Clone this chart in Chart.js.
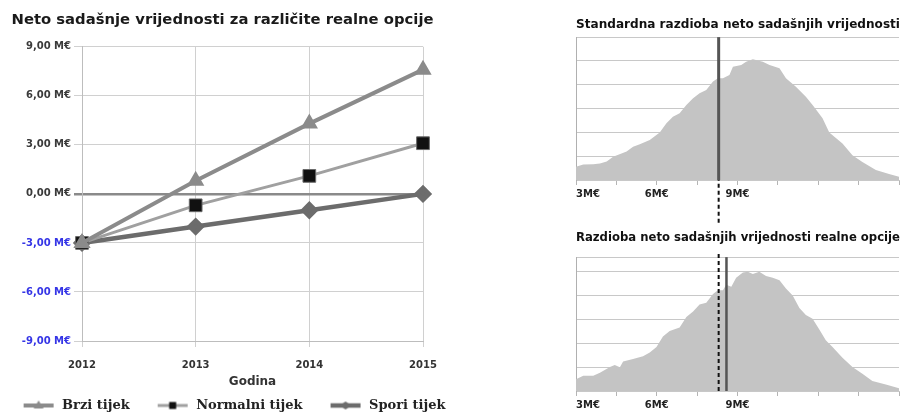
<!DOCTYPE html>
<html>
<head>
<meta charset="utf-8">
<script src="https://cdn.jsdelivr.net/npm/chart.js@4.4.1/dist/chart.umd.min.js"></script>
<style>
  html, body { margin: 0; padding: 0; background: #fff; overflow: hidden; width: 902px; height: 414px; }
  canvas { position: absolute; }
  #npvChart { left: -20px; top: 0; }
  #stdChart { left: 560px; top: 0; }
  #optChart { left: 560px; top: 226px; }
</style>
</head>
<body>
<canvas id="npvChart" width="485" height="430"></canvas>
<canvas id="stdChart" width="342" height="232"></canvas>
<canvas id="optChart" width="342" height="188"></canvas>
<script>
/**********************************
  1) DATA
**********************************/
// Left chart: NPV per year for each option (M€)
const years         = ['2012', '2013', '2014', '2015'];
const brziTijek     = [-3.0, 0.8, 4.3, 7.6];
const normalniTijek = [-3.0, -0.7, 1.1, 3.1];
const sporiTijek    = [-3.0, -2.0, -1.0, 0.0];

// Right charts: NPV distributions (x in M€, y in grid units)
const stdNpvX = [3.0, 3.27, 3.64, 3.89, 4.14, 4.38, 4.88, 5.12, 5.37, 5.74, 6.11, 6.36, 6.6, 6.85,
                 7.1, 7.35, 7.59, 7.84, 8.09, 8.27, 8.46, 8.7, 8.83, 9.14, 9.32, 9.57, 9.94, 10.19,
                 10.56, 10.8, 11.17, 11.54, 11.79, 12.16, 12.41, 12.9, 13.27, 13.64, 14.14, 14.63, 15.0];
const stdNpvY = [0.56, 0.65, 0.66, 0.69, 0.78, 0.98, 1.2, 1.4, 1.5, 1.68, 2.0, 2.38, 2.66, 2.8,
                 3.15, 3.43, 3.64, 3.78, 4.14, 4.27, 4.27, 4.41, 4.76, 4.83, 4.97, 5.07, 4.97, 4.83,
                 4.69, 4.27, 3.92, 3.5, 3.15, 2.59, 2.0, 1.53, 1.04, 0.76, 0.42, 0.25, 0.14];

const optNpvX = [3.0, 3.27, 3.64, 3.89, 4.26, 4.44, 4.63, 4.75, 5.12, 5.49, 5.74, 5.99, 6.23, 6.48,
                 6.85, 7.1, 7.35, 7.59, 7.84, 8.09, 8.27, 8.46, 8.58, 8.77, 8.95, 9.2, 9.38, 9.57,
                 9.81, 10.06, 10.31, 10.56, 10.8, 11.05, 11.3, 11.54, 11.79, 12.04, 12.28, 12.53,
                 12.9, 13.27, 13.64, 14.01, 14.51, 15.0];
const optNpvY = [0.49, 0.64, 0.64, 0.76, 1.01, 1.09, 1.0, 1.24, 1.34, 1.46, 1.61, 1.84, 2.28, 2.51,
                 2.66, 3.1, 3.33, 3.63, 3.7, 4.07, 4.22, 4.22, 4.45, 4.37, 4.75, 4.97, 5.0, 4.9,
                 5.0, 4.82, 4.75, 4.64, 4.3, 4.0, 3.48, 3.18, 3.03, 2.58, 2.13, 1.84,
                 1.39, 1.01, 0.72, 0.42, 0.27, 0.12];

const distTickLabels = [3, 6, 9];   // M€ values that carry a label
const stdMean = 8.3;                // standard NPV marker
const optMean = 8.59;               // real option NPV marker

/**********************************
  2) LEFT CHART
**********************************/
const fmtM = v => v.toFixed(2).replace('.', ',') + ' M€';

// legend icon: line with the marker in the middle
function legendIcon(lineColor, lineWidth, drawMark) {
  const c = document.createElement('canvas');
  c.width = 56; c.height = 14;
  const g = c.getContext('2d');
  g.strokeStyle = lineColor; g.lineWidth = lineWidth;
  g.beginPath(); g.moveTo(24, 7); g.lineTo(54, 7); g.stroke();
  drawMark(g, 39, 7);
  return c;
}
const legendIcons = [
  legendIcon('#8b8b8b', 4, (g, x, y) => {
    g.fillStyle = '#8b8b8b';
    g.beginPath(); g.moveTo(x, y - 5); g.lineTo(x + 5, y + 3); g.lineTo(x - 5, y + 3); g.closePath(); g.fill();
  }),
  legendIcon('#a0a0a0', 3, (g, x, y) => {
    g.fillStyle = '#111'; g.fillRect(x - 3.5, y - 3.5, 7, 7);
  }),
  legendIcon('#6c6c6c', 4.5, (g, x, y) => {
    g.fillStyle = '#6c6c6c';
    g.beginPath(); g.moveTo(x - 6, y); g.lineTo(x, y - 4); g.lineTo(x + 6, y); g.lineTo(x, y + 4); g.closePath(); g.fill();
  })
];

new Chart(document.getElementById('npvChart'), {
  type: 'line',
  data: {
    labels: years,
    datasets: [
      { label: 'Brzi tijek', data: brziTijek, borderColor: '#8b8b8b', borderWidth: 4,
        pointStyle: 'triangle', pointRadius: 6, pointBackgroundColor: '#8b8b8b', pointBorderColor: '#8b8b8b' },
      { label: 'Normalni tijek', data: normalniTijek, borderColor: '#a0a0a0', borderWidth: 3,
        pointStyle: 'rect', pointRadius: 9, pointBackgroundColor: '#111', pointBorderColor: '#6a6a6a', pointBorderWidth: 1 },
      { label: 'Spori tijek', data: sporiTijek, borderColor: '#6c6c6c', borderWidth: 4.5,
        pointStyle: 'rectRot', pointRadius: 6, pointBackgroundColor: '#6c6c6c', pointBorderColor: '#6c6c6c' }
    ]
  },
  options: {
    responsive: false,
    animation: false,
    layout: { padding: { bottom: 8 } },
    plugins: {
      title: {
        display: true,
        text: 'Neto sadašnje vrijednosti za različite realne opcije',
        color: '#1a1a1a',
        font: { family: 'DejaVu Sans', size: 14.8, weight: 'bold' },
        padding: { top: 11, bottom: 18 }
      },
      legend: {
        position: 'bottom',
        labels: {
          usePointStyle: true,
          pointStyleWidth: 56,
          padding: 4,
          font: { family: 'DejaVu Serif', size: 13, weight: 'bold' },
          generateLabels: chart => chart.data.datasets.map((ds, i) => ({
            text: ds.label, pointStyle: legendIcons[i], datasetIndex: i,
            hidden: false, lineWidth: 0, fontColor: '#222'
          }))
        }
      },
      tooltip: { enabled: false }
    },
    scales: {
      x: {
        grid: { color: '#d0d0d0', tickLength: 6 },
        border: { color: '#bdbdbd' },
        ticks: { color: '#333', font: { family: 'DejaVu Sans', size: 10, weight: 'bold' }, padding: 12, maxRotation: 0 },
        title: {
          display: true, text: 'Godina', color: '#333',
          font: { family: 'DejaVu Sans', size: 12, weight: 'bold' },
          padding: { top: 0, bottom: 6 }
        },
        afterFit: s => { s.height = 54; }
      },
      y: {
        min: -9, max: 9,
        ticks: {
          stepSize: 3, callback: fmtM, padding: 3,
          color: c => (c.tick && c.tick.value < 0) ? '#3535e6' : '#3a3a3a',
          font: { family: 'DejaVu Sans', size: 10, weight: 'bold' }
        },
        grid: {
          tickLength: 8,
          color: c => (c.tick && c.tick.value === 0) ? '#8a8a8a' : '#d0d0d0',
          lineWidth: c => (c.tick && c.tick.value === 0) ? 2.5 : 1
        },
        border: { color: '#bdbdbd' },
        afterFit: s => { s.width = 102; }
      },
      yPad: {
        position: 'right', display: true,
        ticks: { display: false }, grid: { display: false }, border: { display: false },
        afterFit: s => { s.width = 42; }
      }
    }
  }
});

/**********************************
  3) RIGHT CHARTS (distributions)
**********************************/
function distChart(id, xs, ys, yMax, markerSets, titleText, titlePad, axisH) {
  const area = xs.map((x, i) => ({ x, y: ys[i] }));
  return new Chart(document.getElementById(id), {
    type: 'line',
    data: {
      datasets: markerSets.concat([{
        data: area, fill: 'origin', backgroundColor: '#c4c4c4',
        borderWidth: 0, pointRadius: 0
      }])
    },
    options: {
      responsive: false,
      animation: false,
      layout: { padding: { left: 16, right: 2 } },
      plugins: {
        legend: { display: false },
        tooltip: { enabled: false },
        title: {
          display: true, text: titleText, color: '#111',
          font: { family: 'DejaVu Sans', size: 12.2, weight: 'bold' },
          padding: titlePad
        }
      },
      scales: {
        x: {
          type: 'linear', min: 3, max: 15,
          ticks: {
            stepSize: 1.5, autoSkip: false, maxRotation: 0, align: 'inner', padding: 3,
            color: '#222', font: { family: 'DejaVu Sans', size: 10, weight: 'bold' },
            callback: v => distTickLabels.includes(v) ? v + 'M€' : ''
          },
          grid: { drawOnChartArea: false, tickLength: 5, color: '#b5b5b5' },
          border: { color: '#c8c8c8' },
          afterFit: s => { s.height = axisH; }
        },
        y: {
          min: 0, max: yMax,
          ticks: { display: false, stepSize: 1 },
          grid: { color: '#c8c8c8', drawTicks: false },
          border: { color: '#b0b0b0' },
          afterFit: s => { s.width = 0; }
        }
      }
    }
  });
}

const vLine = (x, y0, y1, color, width, dash) => ({
  data: [{ x, y: y0 }, { x, y: y1 }],
  borderColor: color, borderWidth: width, borderDash: dash || [],
  pointRadius: 0, fill: false, clip: false
});

distChart('stdChart', stdNpvX, stdNpvY, 6, [
  vLine(stdMean, 0, 6, '#555', 3),
  vLine(stdMean, -1.8, 0, '#111', 2, [4, 3])
], 'Standardna razdioba neto sadašnjih vrijednosti', { top: 17.5, bottom: 5 }, 52);

distChart('optChart', optNpvX, optNpvY, 5.61, [
  vLine(optMean, 0, 5.61, '#555', 2.5),
  vLine(stdMean, 0, 5.83, '#111', 2, [4, 3])
], 'Razdioba neto sadašnjih vrijednosti realne opcije', { top: 4.5, bottom: 12 }, 23);
</script>
</body>
</html>
